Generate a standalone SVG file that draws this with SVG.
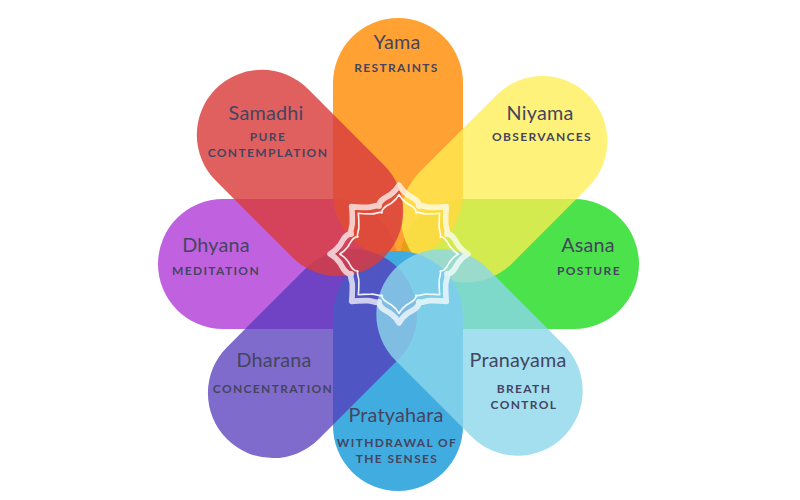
<svg xmlns="http://www.w3.org/2000/svg" xmlns:xlink="http://www.w3.org/1999/xlink" width="800" height="500" viewBox="0 0 800 500">
<style>
text{font-family:"Lato","Noto Sans",sans-serif;text-anchor:middle;fill:#45455f}
.t{font-size:19.8px;letter-spacing:.2px}
.s{font-size:12px;font-weight:700;letter-spacing:1.35px}
.band{fill:none;stroke:#fff;stroke-width:5.6;stroke-linejoin:round;stroke-linecap:round}
.line{fill:none;stroke:#fff;stroke-width:1.9;stroke-linejoin:round;stroke-linecap:round}
</style>
<defs>
<path id="p" d="M-20,-48C-20,-54 -14,-56 -9,-59C-5,-62 -2,-65 0,-69C2,-65 5,-62 9,-59C14,-56 20,-54 20,-48"/>
<path id="q" d="M-20,-48C-18,-52 -13,-52 -10,-56C-6,-60 -3,-63 0,-67C3,-63 6,-60 10,-56C13,-52 18,-52 20,-48"/>
<g id="ring">
<use xlink:href="#p"/><use xlink:href="#q" transform="rotate(45)"/><use xlink:href="#p" transform="rotate(90)"/><use xlink:href="#q" transform="rotate(135)"/><use xlink:href="#p" transform="rotate(180)"/><use xlink:href="#q" transform="rotate(225)"/><use xlink:href="#p" transform="rotate(270)"/><use xlink:href="#q" transform="rotate(315)"/>
</g>
</defs>
<rect width="800" height="500" fill="#fff"/>
<g id="dhyana"><rect x="158" y="199" width="240" height="130" rx="65" fill="#C062E0"/></g>
<g id="asana"><rect x="399" y="199" width="240" height="130" rx="65" fill="#4CE24C"/></g>
<g id="yama"><rect x="333" y="18" width="130" height="240" rx="65" fill="#FF920F" fill-opacity=".85"/></g>
<g id="niyama"><rect x="-65" y="-120" width="130" height="238" rx="65" transform="translate(503.5 180) rotate(45)" fill="#FFEE50" fill-opacity=".76"/></g>
<g id="pratyahara"><rect x="333" y="251" width="130" height="240" rx="65" fill="#41ACE0"/></g>
<g id="dharana"><rect x="-65" y="-121" width="130" height="242" rx="65" transform="translate(312.5 353.5) rotate(-135)" fill="#5439B9" fill-opacity=".75"/></g>
<g id="samadhi"><rect x="-65" y="-119" width="130" height="238" rx="65" transform="translate(300 173) rotate(-45)" fill="#D93D3D" fill-opacity=".82"/></g>
<g id="pranayama"><rect x="-65" y="-119" width="130" height="238" rx="65" transform="translate(479.5 352.5) rotate(135)" fill="#8CD7EB" fill-opacity=".8"/></g>
<g id="lotus" transform="translate(399 254)">
<use xlink:href="#ring" class="band" opacity=".72"/>
<use xlink:href="#ring" class="line" transform="scale(.86)" opacity=".9"/>
</g>
<g id="labels">
<text class="t" x="397" y="49">Yama</text><text class="s" x="396.500" y="72">RESTRAINTS</text>
<text class="t" x="266" y="120">Samadhi</text><text class="s" x="268" y="141">PURE</text><text class="s" x="268" y="157">CONTEMPLATION</text>
<text class="t" x="540" y="120">Niyama</text><text class="s" x="542" y="141">OBSERVANCES</text>
<text class="t" x="588" y="252">Asana</text><text class="s" x="589" y="275">POSTURE</text>
<text class="t" x="518" y="367">Pranayama</text><text class="s" x="524" y="393">BREATH</text><text class="s" x="524" y="409">CONTROL</text>
<text class="t" x="396" y="422">Pratyahara</text><text class="s" x="397" y="447">WITHDRAWAL OF</text><text class="s" x="397" y="463">THE SENSES</text>
<text class="t" x="274" y="367">Dharana</text><text class="s" x="273" y="393">CONCENTRATION</text>
<text class="t" x="216" y="252">Dhyana</text><text class="s" x="216" y="275">MEDITATION</text>
</g>
</svg>
